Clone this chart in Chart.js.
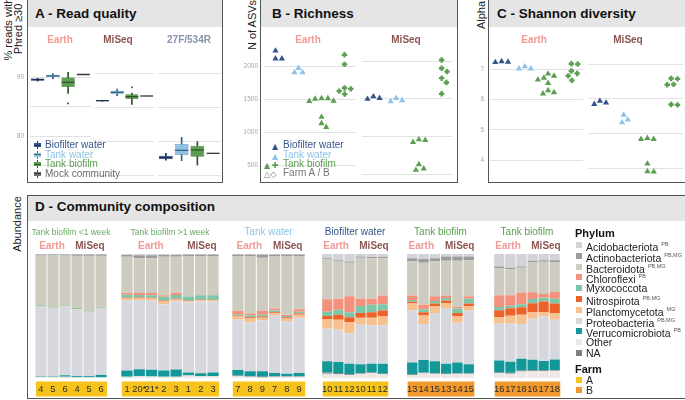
<!DOCTYPE html>
<html>
<head>
<meta charset="utf-8">
<script src="https://cdn.jsdelivr.net/npm/chart.js@4.4.1/dist/chart.umd.min.js"></script>
<style>
  body { margin: 0; background: #fff; font-family: "Liberation Sans", Arial, sans-serif; }
  #fig { position: relative; width: 685px; height: 400px; overflow: hidden; }
  .frame { position: absolute; border: 1px solid #555; box-sizing: border-box; }
  .head { position: absolute; background: #e5e5e5; }
  .ptitle { position: absolute; font-weight: bold; font-size: 13.5px; line-height: 16px; color: #111; white-space: nowrap; }
  .lbl { position: absolute; white-space: nowrap; line-height: 12px; }
  .ytitle { position: absolute; font-size: 11px; line-height: 10px; color: #222; white-space: nowrap; text-align: center;
            transform: translate(-50%, -50%) rotate(-90deg); }
  .glyph { font-family: "DejaVu Sans", sans-serif; font-size: 8px; }
  .sup { font-size: 5.5px; vertical-align: 5px; color: #555; }
  .sq { position: absolute; width: 6px; height: 6px; }
</style>
</head>
<body>
<div id="fig">
  <!-- panel frames -->
  <div class="frame" style="left:27px;top:-1px;width:196px;height:184px"></div>
  <div class="head" style="left:28px;top:0;width:194px;height:27px"></div>
  <div class="ptitle" style="left:35px;top:6px">A - Read quality</div>

  <div class="frame" style="left:260px;top:-1px;width:198px;height:184px"></div>
  <div class="head" style="left:261px;top:0;width:196px;height:27px"></div>
  <div class="ptitle" style="left:272px;top:6px">B - Richness</div>

  <div class="frame" style="left:488px;top:-1px;width:200px;height:184px"></div>
  <div class="head" style="left:489px;top:0;width:198px;height:27px"></div>
  <div class="ptitle" style="left:497px;top:6px">C - Shannon diversity</div>

  <div class="frame" style="left:27px;top:195px;width:662px;height:204px"></div>
  <div class="head" style="left:28px;top:196px;width:660px;height:25px"></div>
  <div class="ptitle" style="left:35px;top:199px">D - Community composition</div>

  <div class="ytitle" style="left:13px;top:29px">% reads with<br>Phred ≥30</div>
  <div class="ytitle" style="left:252px;top:25px">N of ASVs</div>
  <div class="ytitle" style="left:481px;top:15px">Alpha</div>
  <div class="ytitle" style="left:17px;top:224px">Abundance</div>
</div>

<script>
// ---------------- data ----------------
const sampleTypes = ['Biofilter water', 'Tank water', 'Tank biofilm', 'Mock community'];
const typeColors = ['#34558b', '#8ec3e6', '#5a9e4f', '#6d6d6d'];
const typeDark = ['#1d3157', '#36627f', '#2c5626', '#3a3a3a'];

// A - read quality, boxes as [low whisker, q1, median, q3, high whisker]
const qualFacets = ['Earth', 'MiSeq', '27F/534R'];
const qualEarth = [[89.3, 89.37, 89.56, 89.75, 89.8], [89.7, 90.0, 90.2, 90.4, 90.6], [87.25, 88.34, 89.12, 89.95, 90.8], [90.44, 90.44, 90.44, 90.44, 90.44]];
const qualMiSeq = [[85.85, 85.88, 85.93, 85.98, 86.0], [86.67, 86.87, 87.16, 87.4, 87.65], [85.4, 86.18, 86.52, 86.87, 87.06], [86.62, 86.62, 86.62, 86.62, 86.62]];
const qual27F = [[77.2, 77.31, 77.57, 77.84, 78.19], [77.1, 77.94, 78.63, 79.56, 80.54], [76.47, 77.7, 78.68, 79.31, 79.9], [78.19, 78.19, 78.19, 78.19, 78.19]];
const qualOutEarth = [null, null, 85.55, null];
const qualOutMiSeq = [null, null, 87.9, null];
const qualOut27F = [null, null, null, null];
const qualTicks = [75, 80, 85, 90];
const qualTickLabels = [80, 90];

// B - richness (N of ASVs): biofilter water, tank water, tank biofilm farm A, tank biofilm farm B
const richEarth = [[2241, 2122, 2122], [1978, 1912, 1912], [1517, 1517, 1509, 1478, 1474, 1233, 1136, 1079], [2180, 2035, 1675, 1662, 1627, 1583]];
const richMiSeq = [[1530, 1509, 1496], [1509, 1478, 1465], [960, 951, 925, 631, 575, 556], [2013, 1904, 1859, 1772, 1715, 1566]];
const richTicks = [500, 1000, 1500, 2000];

// C - Shannon diversity
const shanEarth = [[7.27, 7.25, 7.24], [7.10, 7.03, 7.03], [6.86, 6.79, 6.72, 6.66, 6.55, 6.31, 6.24, 6.20], [7.19, 7.18, 6.95, 6.87, 6.79, 6.64]];
const shanMiSeq = [[5.94, 5.89, 5.85], [5.54, 5.40, 5.32], [4.87, 4.84, 4.84, 4.13, 3.91, 3.90], [6.59, 6.58, 6.42, 6.41, 5.84, 5.83]];
const shanTicks = [4, 5, 6, 7];

// D - community composition (% per sample)
const compTitles = ['Tank biofilm <1 week', 'Tank biofilm >1 week', 'Tank water', 'Biofilter water', 'Tank biofilm', 'Tank biofilm'];
const compSamples = [['4', '5', '6', '4', '5', '6'], ['1', '20*', '21*', '2', '3', '1', '2', '3'], ['7', '8', '9', '7', '8', '9'],
                     ['10', '11', '12', '10', '11', '12'], ['13', '14', '15', '13', '14', '15'], ['16', '17', '18', '16', '17', '18']];
const compEarthCount = [3, 5, 3, 3, 3, 3];
const compFarm = ['A', 'A', 'A', 'A', 'B', 'B'];
const acido   = [0.3,0.3,0.3,0.3,0.3,0.3, 0.8,1,1,0.8,0.8,0.5,0.5,0.5, 0.5,0.5,0.5,0.5,0.5,0.5, 3.5,5,6,2,2.5,2.5, 3.5,4,3.5,2,2,2, 10,11,10,5.5,5,5];
const actino  = [1,1,1,1.2,1.2,1.2, 1.5,2.5,2.5,1.5,1.5,1.5,1.5,1.5, 1.5,1.5,2.5,1.5,1.5,1.5, 1,1,1,1,1,1, 2.5,3,2.5,3.5,3.5,3, 1.3,1.3,1,1.3,1.3,1.5];
const bactero = [40,41,39.5,42,44,41.5, 29,28,28,31,29,32,31,31, 44,46,43,42,47,42.5, 32,30,27,33,32.5,30, 27.5,34,28,28,37,29, 22,21,20,24,26,24];
const chloro  = [0.1,0.1,0.1,0.1,0.1,0.1, 1.5,1.5,1.8,1.2,1.8,0.3,0.3,0.3, 2.5,1.5,3,1.5,1,2, 10,9,13,6,5,7, 3.5,3.5,4,2,1.5,2, 9.5,8.5,9.5,5.5,3,5.5];
const myxo    = [0.8,0.8,0.8,0.8,0.8,0.8, 2.5,2,2,3,3,3.5,3.5,3.5, 1,1.5,1.5,1.5,1,1.5, 3.5,4,4,5.5,6,5, 1.5,2.5,2,2,3.5,4, 2.5,2,2.5,3.5,3,4];
const nitro   = [0.1,0.1,0.1,0.1,0.1,0.1, 0.5,0.5,0.5,0.5,0.5,0.3,0.3,0.3, 1,1,1,0.8,1,1, 2.5,4,4,4,4.5,5, 1.5,2.5,2,2,3,2, 5.5,6,6,7,8.5,7.5];
const plancto = [0.2,0.2,0.2,0.2,0.2,0.2, 1.5,1.5,1.5,2.5,1.5,1,1,1, 2.5,3,2,2,2,2.5, 7.5,8,9,5.5,6,7, 5.5,7,5.5,4,5,3.5, 5.5,6,7.5,5.5,3.5,5.5];
const proteo  = [56.2,55.2,56,54,52,53.5, 56.7,56,56,53.5,55,56.4,58,57.4, 40.5,39.5,41,46.2,42.5,44.5, 26.5,26,24.5,32,31,31, 42,29,39,45,32,43.5, 29.5,31,28,33,36,32];
const verruco = [0.5,0.5,1.2,1,1,2, 5,5.5,5.5,5,5.8,2.5,2.5,3, 4.5,4,4.5,2.5,2,2.5, 9,9,8.5,7,7,8, 9.5,10,9.5,8,8.5,7, 9.5,9,9.5,8.5,7.5,8.5];
const naVals  = [0,0,0,0,0,0, 0,0,0,0,0,0,0,0, 0.5,0.5,0.5,0.5,0.5,0.5, 1,1,0.5,0.5,0.5,0.5, 0.5,0.5,0.5,0.5,0.5,0.5, 0.7,0.7,0.7,0.7,0.7,0.7];
const other   = [1,1,1,0.5,0.5,0.5, 1,1.5,1.2,1,1.1,2,1.4,1.5, 1.5,1,0.5,1,1,1, 3.5,3,2.5,3.5,4,3, 2.5,4,3.5,3,3.5,3.5, 4,3.5,5.3,5.5,5.5,5.8];

// ---------------- styling ----------------
const FONT = "'Liberation Sans', Arial, sans-serif";
const EARTH_COL = '#f09a96', MISEQ_COL = '#8b5651';
const farmColors = { A: '#f6c31d', B: '#f1992c' };
// top-to-bottom stacking order
const phyla = [
  ['Acidobacteriota', acido, '#d3d3d7', 'PB'],
  ['Actinobacteriota', actino, '#9b9b9b', 'PB,MG'],
  ['Bacteroidota', bactero, '#cecbc1', 'PB,MG'],
  ['Chloroflexi', chloro, '#f4917c', 'PB'],
  ['Myxococcota', myxo, '#7fc5a7', ''],
  ['Nitrospirota', nitro, '#ec6229', 'PB,MG'],
  ['Planctomycetota', plancto, '#f7c18f', 'MG'],
  ['Proteobacteria', proteo, '#d7d8de', 'PB,MG'],
  ['Verrucomicrobiota', verruco, '#13989a', 'PB'],
  ['NA', naVals, '#7f7f7f', ''],
  ['Other', other, '#ede7e5', '']
];
const legendOrder = ['Acidobacteriota', 'Actinobacteriota', 'Bacteroidota', 'Chloroflexi', 'Myxococcota', 'Nitrospirota',
                     'Planctomycetota', 'Proteobacteria', 'Verrucomicrobiota', 'Other', 'NA'];

Chart.defaults.font.family = FONT;
Chart.defaults.animation = false;
Chart.defaults.events = [];
Chart.defaults.plugins.legend.display = false;
Chart.defaults.plugins.tooltip.enabled = false;

const fig = document.getElementById('fig');

function addCanvas(left, top, w, h) {
  const c = document.createElement('canvas');
  c.width = w; c.height = h;
  c.style.cssText = 'position:absolute;left:' + left + 'px;top:' + top + 'px;width:' + w + 'px;height:' + h + 'px';
  fig.appendChild(c);
  return c;
}

function addLabel(html, cx, cy, css) {
  const d = document.createElement('div');
  d.className = 'lbl';
  d.innerHTML = html;
  d.style.cssText = 'left:' + cx + 'px;top:' + cy + 'px;transform:translate(-50%,-50%);' + (css || '');
  fig.appendChild(d);
  return d;
}

function addText(html, left, cy, css) {
  const d = document.createElement('div');
  d.className = 'lbl';
  d.innerHTML = html;
  d.style.cssText = 'left:' + left + 'px;top:' + cy + 'px;transform:translateY(-50%);' + (css || '');
  fig.appendChild(d);
  return d;
}

function yAxis(min, max, ticks, labels, axisW, pad) {
  return {
    min: min, max: max,
    border: { display: false },
    grid: { color: '#e2e2e2', lineWidth: 1, drawTicks: false },
    afterBuildTicks: function (s) { s.ticks = ticks.map(function (v) { return { value: v }; }); },
    afterFit: function (s) { s.width = axisW; },
    ticks: {
      display: axisW > 0, padding: pad || 6, color: '#a6a6a6', font: { size: 6.5 },
      callback: function (v) { return labels.indexOf(v) >= 0 ? String(v) : ''; }
    }
  };
}

const TOP = 28, PLOT_H = 153;

// ---------------- A: read quality boxplots ----------------
const qualMin = 74.12, qualMax = 96.62;
function qualChart(left, width, axisW, stats, outliers) {
  const c = addCanvas(left, TOP, width, PLOT_H);
  new Chart(c, {
    type: 'bar',
    data: {
      labels: sampleTypes,
      datasets: [
        { data: stats.map(function (s) { return [s[0], s[4]]; }), backgroundColor: typeDark, barThickness: 1, grouped: false, order: 3 },
        { data: stats.map(function (s) { return [s[1], s[3]]; }), backgroundColor: typeColors, borderColor: typeDark,
          borderWidth: 0.5, borderSkipped: false, barPercentage: 0.87, categoryPercentage: 1, grouped: false, order: 2 },
        { type: 'line', data: stats.map(function (s) { return s[2]; }), showLine: false, pointStyle: 'line',
          pointRadius: 6.5, pointBorderColor: typeDark, pointBorderWidth: 1.3, order: 1 },
        { type: 'line', data: outliers, showLine: false, pointStyle: 'circle', pointRadius: 0.9,
          pointBackgroundColor: '#333', pointBorderWidth: 0, order: 0 }
      ]
    },
    options: {
      responsive: false,
      layout: { padding: 0, autoPadding: false },
      scales: {
        x: { display: false, offset: true },
        y: yAxis(qualMin, qualMax, qualTicks, qualTickLabels, axisW, 6)
      }
    }
  });
}
qualChart(10, 81, 20, qualEarth, qualOutEarth);
qualChart(95, 59, 0, qualMiSeq, qualOutMiSeq);
qualChart(158, 63, 0, qual27F, qualOut27F);
addLabel(qualFacets[0], 60, 40, 'font-weight:bold;font-size:10px;color:' + EARTH_COL);
addLabel(qualFacets[1], 118, 40, 'font-weight:bold;font-size:10px;color:' + MISEQ_COL);
addLabel(qualFacets[2], 189, 40, 'font-weight:bold;font-size:10px;color:#8794ab');

// legend A
sampleTypes.forEach(function (t, i) {
  const cy = 145 + i * 9.5;
  const k = document.createElement('div');
  k.style.cssText = 'position:absolute;left:34px;top:' + (cy - 4) + 'px;width:7px;height:8px';
  k.innerHTML = '<div style="position:absolute;left:3px;top:0;width:1px;height:8px;background:' + typeDark[i] + '"></div>' +
                '<div style="position:absolute;left:0;top:2px;width:7px;height:4px;background:' + typeColors[i] + '"></div>' +
                '<div style="position:absolute;left:0;top:3.5px;width:7px;height:1px;background:' + typeDark[i] + '"></div>';
  fig.appendChild(k);
  addText(t, 45, cy, 'font-size:10px;color:' + (i === 3 ? '#6d6d6d' : typeColors[i]));
});

// ---------------- B / C: dot (beeswarm) charts ----------------
function swarm(vals, pxPerUnit, diam) {
  const placed = [];
  const out = new Array(vals.length);
  const idx = vals.map(function (v, i) { return i; }).sort(function (a, b) { return vals[b] - vals[a]; });
  idx.forEach(function (i) {
    const y = vals[i] * pxPerUnit;
    const cands = [0];
    placed.forEach(function (p) {
      const dy = y - p.y;
      if (Math.abs(dy) < diam) {
        const dx = Math.sqrt(diam * diam - dy * dy);
        cands.push(p.x + dx, p.x - dx);
      }
    });
    cands.sort(function (a, b) { return Math.abs(a) - Math.abs(b); });
    let x = 0;
    for (let j = 0; j < cands.length; j++) {
      const c = cands[j];
      if (placed.every(function (p) { return (p.x - c) * (p.x - c) + (p.y - y) * (p.y - y) >= diam * diam - 0.01; })) { x = c; break; }
    }
    placed.push({ x: x, y: y });
    out[i] = x;
  });
  return out;
}

const dotColors = ['#34558b', '#8ec3e6', '#5a9e4f', '#5a9e4f'];
const dotStyles = ['triangle', 'triangle', 'triangle', 'cross'];
function dotChart(left, width, axisW, groups, min, max, ticks, pad) {
  const plotW = width - axisW;
  const pxPerUnit = PLOT_H / (max - min);
  const pxPerCat = plotW / 4;
  const c = addCanvas(left, TOP, width, PLOT_H);
  const datasets = groups.map(function (vals, g) {
    const offs = swarm(vals, pxPerUnit, 6.4);
    return {
      data: vals.map(function (v, i) { return { x: g + offs[i] / pxPerCat, y: v }; }),
      pointStyle: dotStyles[g],
      pointRadius: dotStyles[g] === 'cross' ? 2.7 : 3.6,
      pointBackgroundColor: dotColors[g],
      pointBorderColor: dotColors[g],
      pointBorderWidth: dotStyles[g] === 'cross' ? 2.3 : 0
    };
  });
  new Chart(c, {
    type: 'scatter',
    data: { datasets: datasets },
    options: {
      responsive: false,
      layout: { padding: 0, autoPadding: false },
      scales: {
        x: { type: 'linear', display: false, min: -0.5, max: 3.5 },
        y: yAxis(min, max, ticks, ticks, axisW, pad)
      }
    }
  });
}
dotChart(236, 120, 28, richEarth, 411, 2437, richTicks, 6);
dotChart(362, 91, 0, richMiSeq, 411, 2437, richTicks, 6);
addLabel('Earth', 308, 40, 'font-weight:bold;font-size:10px;color:' + EARTH_COL);
addLabel('MiSeq', 406, 40, 'font-weight:bold;font-size:10px;color:' + MISEQ_COL);

dotChart(470, 113, 20, shanEarth, 3.634, 8.047, shanTicks, 6);
dotChart(588, 95, 0, shanMiSeq, 3.634, 8.047, shanTicks, 6);
addLabel('Earth', 534, 40, 'font-weight:bold;font-size:10px;color:' + EARTH_COL);
addLabel('MiSeq', 628, 40, 'font-weight:bold;font-size:10px;color:' + MISEQ_COL);

// legend B
addText('<span class="glyph" style="color:#34558b">▲</span>', 272, 145);
addText('Biofilter water', 283, 145, 'font-size:10px;color:#34558b');
addText('<span class="glyph" style="color:#8ec3e6">▲</span>', 272, 154.5);
addText('Tank water', 283, 154.5, 'font-size:10px;color:#8ec3e6');
addText('<span class="glyph" style="color:#5a9e4f">▲</span>', 264, 164);
addText('<span class="glyph" style="color:#5a9e4f;font-size:8px;font-weight:bold">✚</span>', 272, 164);
addText('Tank biofilm', 283, 164, 'font-size:10px;color:#5a9e4f');
addText('<span class="glyph" style="color:#777">△◇</span>', 264, 173.3);
addText('Farm A / B', 283, 173.3, 'font-size:10px;color:#777');

// ---------------- D: stacked composition bars ----------------
const compLeft = [33, 119, 230, 317, 402, 489];
const compWidth = [76, 102, 77, 76, 77, 76];
const titleColors = ['#6aaa64', '#6aaa64', '#8ec3e6', '#34558b', '#5a9e4f', '#5a9e4f'];
const titleSizes = [8.5, 8.5, 10, 10, 10, 10];

const farmStrip = {
  id: 'farmStrip',
  beforeDraw: function (chart, args, opts) {
    const a = chart.chartArea, ctx = chart.ctx;
    ctx.save();
    ctx.fillStyle = opts.color;
    ctx.fillRect(a.left + 1, a.bottom + 3.5, a.right - a.left - 1, 15);
    ctx.restore();
  }
};

const totals = acido.map(function (v, i) {
  return phyla.reduce(function (s, p) { return s + p[1][i]; }, 0);
});

let start = 0;
compSamples.forEach(function (samples, g) {
  const n = samples.length;
  const from = start;
  start += n;
  const datasets = phyla.slice().reverse().map(function (p) {
    return {
      label: p[0],
      data: p[1].slice(from, from + n).map(function (v, i) { return v / totals[from + i] * 100; }),
      backgroundColor: p[2],
      borderWidth: 0,
      barPercentage: 0.92,
      categoryPercentage: 1
    };
  });
  const c = addCanvas(compLeft[g], 254, compWidth[g], 144);
  new Chart(c, {
    type: 'bar',
    data: { labels: samples, datasets: datasets },
    options: {
      responsive: false,
      layout: { padding: 0, autoPadding: false },
      plugins: { farmStrip: { color: farmColors[compFarm[g]] } },
      scales: {
        x: {
          stacked: true,
          border: { display: false },
          grid: { display: false, drawTicks: false },
          afterFit: function (s) { s.height = 20; },
          ticks: { padding: 5.5, color: '#2a2a2a', font: { size: 9.3 }, maxRotation: 0, autoSkip: false }
        },
        y: { stacked: true, display: false, min: 0, max: 100 }
      }
    },
    plugins: [farmStrip]
  });
  const w = compWidth[g], l = compLeft[g];
  const eW = w * compEarthCount[g] / n;
  addLabel(compTitles[g], l + w / 2, 232, 'font-size:' + titleSizes[g] + 'px;color:' + titleColors[g]);
  addLabel('Earth', l + eW / 2, 245.5, 'font-weight:bold;font-size:10px;color:' + EARTH_COL);
  addLabel('MiSeq', l + eW + (w - eW) / 2, 245.5, 'font-weight:bold;font-size:10px;color:' + MISEQ_COL);
});

// legend D
addText('Phylum', 575, 233, 'font-weight:bold;font-size:11px;color:#111');
legendOrder.forEach(function (name, i) {
  const p = phyla.find(function (q) { return q[0] === name; });
  const cy = 245 + i * 10.8;
  const sq = document.createElement('div');
  sq.className = 'sq';
  sq.style.cssText = 'left:576px;top:' + (cy - 3) + 'px;background:' + p[2];
  fig.appendChild(sq);
  addText(name + (p[3] ? ' <span class="sup">' + p[3] + '</span>' : ''), 586, cy, 'font-size:10.5px;color:#222');
});
addText('Farm', 575, 369, 'font-weight:bold;font-size:11px;color:#111');
['A', 'B'].forEach(function (f, i) {
  const cy = 380 + i * 9.5;
  const sq = document.createElement('div');
  sq.className = 'sq';
  sq.style.cssText = 'left:576px;top:' + (cy - 3) + 'px;background:' + farmColors[f];
  fig.appendChild(sq);
  addText(f, 586, cy, 'font-size:10.5px;color:#222');
});
</script>
</body>
</html>
